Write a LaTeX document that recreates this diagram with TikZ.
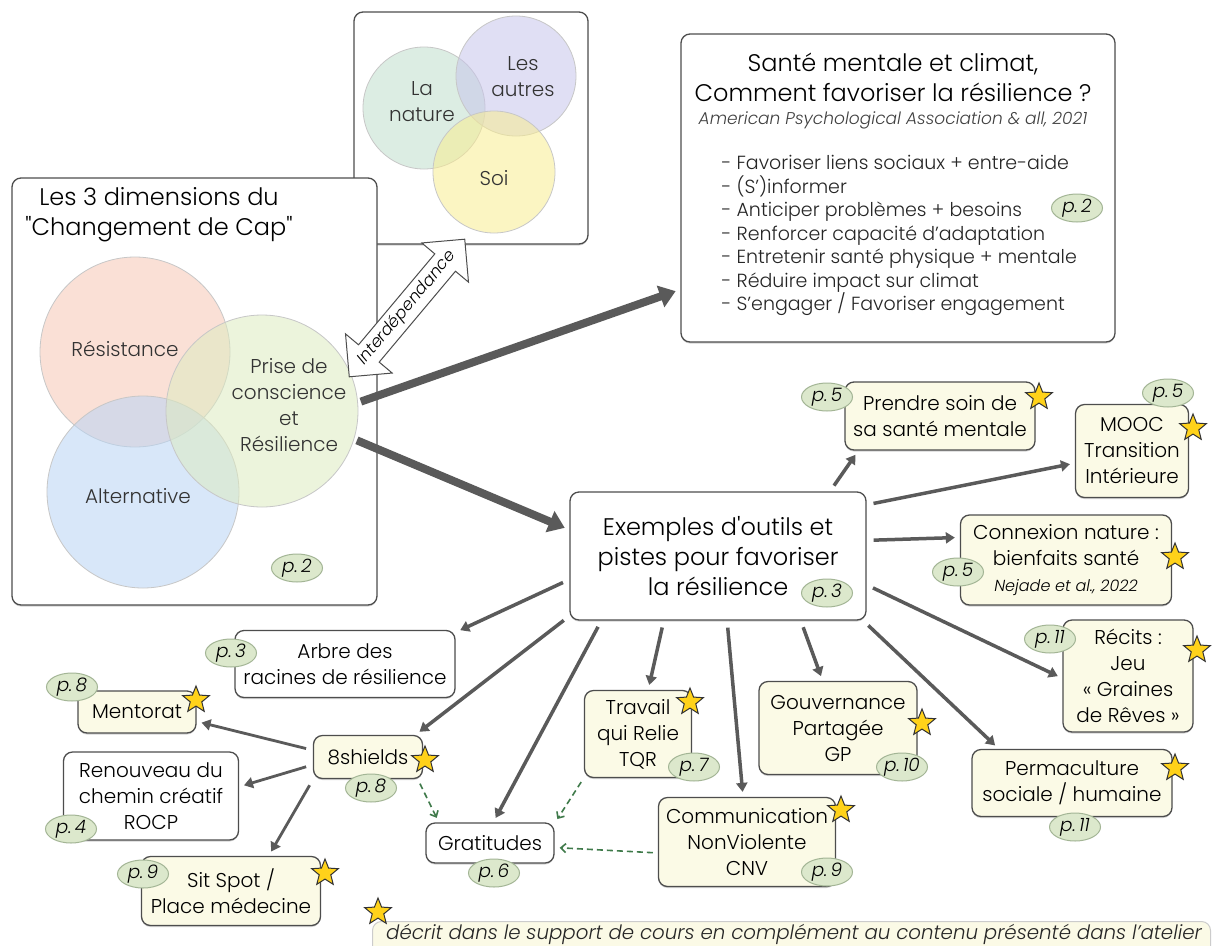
\documentclass[tikz,border=0pt]{standalone}
\usepackage{fontspec}
\setmainfont{Poppins}[UprightFont=* Light, ItalicFont=* Light Italic, BoldFont=* Medium]
\usetikzlibrary{arrows.meta,shapes.geometric,shapes.arrows,shadows}

\definecolor{boxline}{HTML}{4D4D4D}
\definecolor{cream}{HTML}{FBFAE6}
\definecolor{pillfill}{HTML}{DCE8CC}
\definecolor{pillline}{HTML}{A3B595}
\definecolor{stargold}{HTML}{FFD21A}
\definecolor{arrgray}{HTML}{5A5A5A}
\definecolor{dashgreen}{HTML}{3F7A4A}
\definecolor{cresist}{HTML}{F7C7B5}
\definecolor{cprise}{HTML}{DDEBC1}
\definecolor{calter}{HTML}{B9D5F5}
\definecolor{cnature}{HTML}{C1DFCD}
\definecolor{cautres}{HTML}{C7C5EB}
\definecolor{csoi}{HTML}{F9ED91}

\newcommand{\straight}[1]{{\addfontfeatures{Ligatures=TeXOff}#1}}

\tikzset{
  box/.style={draw=boxline, line width=1.3pt, rounded corners=9pt, fill=white,
    align=center, inner sep=0pt, font=\fontsize{20}{26}\selectfont,
    drop shadow={shadow xshift=0pt, shadow yshift=-1.5pt, opacity=.35}},
  toolbox/.style={box, fill=cream},
  pill/.style={ellipse, draw=pillline, line width=1pt, fill=pillfill, minimum width=51pt,
    minimum height=28pt, inner sep=0pt, font=\fontsize{18.5}{18.5}\selectfont\itshape},
  gold/.style={star, star points=5, star point ratio=2.3, draw=black!80, line width=1pt,
    fill=stargold, minimum size=28pt, inner sep=0pt},
  zone/.style={circle, inner sep=0pt, line width=.8pt, draw=black!22, fill opacity=.55},
  label/.style={align=center, text=black!80, font=\fontsize{20}{26}\selectfont},
  link/.style={draw=arrgray, line width=3.5pt, -{Triangle[length=9pt,width=11pt]},
    shorten <=7pt, shorten >=5pt},
  biglink/.style={draw=arrgray, line width=8pt, -{Triangle[length=16pt,width=22pt]},
    shorten <=3pt, shorten >=5pt},
  minilink/.style={link, line width=2.8pt},
  hint/.style={draw=dashgreen, line width=1.6pt, dash pattern=on 6pt off 4pt,
    -{Straight Barb[length=5pt,width=9pt]}, shorten <=5pt, shorten >=5pt}
}

\begin{document}
\begin{tikzpicture}[x=1pt,y=-1pt]
\useasboundingbox[fill=white] (0,0) rectangle (1212,945);

% la nature, les autres, soi
\node[box, minimum width=234pt, minimum height=232pt] (venn) at (471,128) {};
\node[zone, fill=cnature, minimum size=122pt] (nature) at (424,108) {};
\node[zone, fill=cautres, minimum size=120pt] (autres) at (516,76) {};
\node[zone, fill=csoi, minimum size=122pt] (soi) at (494,172) {};
\node[label] (lnature) at (422,102) {La\\nature};
\node[label] (lautres) at (523,77) {Les\\autres};
\node[label] (lsoi) at (494,178) {Soi};

% les 3 dimensions
\node[box, minimum width=365pt, minimum height=427pt] (dims) at (194.5,391.5) {};
\node[align=center, font=\fontsize{24}{30}\selectfont] (dimstitle) at (159,215)
  {Les 3 dimensions du\\\straight{"Changement de Cap"}};
\node[zone, fill=cresist, minimum size=190pt] (resist) at (135,352) {};
\node[zone, fill=calter, minimum size=192pt] (alter) at (143,492) {};
\node[zone, fill=cprise, minimum size=192pt] (prise) at (262,411) {};
\node[label] (lresist) at (125,349) {Résistance};
\node[label] (lprise) at (289,405) {Prise de\\conscience\\et\\Résilience};
\node[label] (lalter) at (138,496) {Alternative};
\node[pill] (pdims) at (297,568) {p.\,2};

\node[double arrow, draw=boxline, fill=white, line width=1pt, rotate=50,
  minimum height=166pt, double arrow head extend=17pt, inner sep=4.5pt,
  font=\fontsize{16.5}{16.5}\selectfont\itshape] (interdep) at (407,308) {Interdépendance};

% sante mentale et climat
\node[box, minimum width=434pt, minimum height=308pt] (sante) at (898,188) {};
\node[align=center, font=\fontsize{24}{30}\selectfont] (santetitle) at (893,77)
  {Santé mentale et climat,\\Comment favoriser la résilience ?};
\node[font=\fontsize{17}{20}\selectfont\itshape, text=black!75] (apa) at (893,120)
  {American Psychological Association \& all, 2021};
\node[anchor=west, align=left, text=black!85, font=\fontsize{19}{23.5}\selectfont] (pistes) at (718,235.5)
  {- Favoriser liens sociaux + entre-aide\\
   - (S’)informer\\
   - Anticiper problèmes + besoins\\
   - Renforcer capacité d’adaptation\\
   - Entretenir santé physique + mentale\\
   - Réduire impact sur climat\\
   - S’engager / Favoriser engagement};
\node[pill] (psante) at (1077,208) {p.\,2};

% exemples d'outils
\node[box, minimum width=296pt, minimum height=128pt, font=\fontsize{24}{30}\selectfont] (exemples) at (718,556)
  {Exemples d\straight{'}outils et\\pistes pour favoriser\\la résilience};
\node[toolbox, minimum width=190pt, minimum height=68pt] (soin) at (940,416) {Prendre soin de\\sa santé mentale};
\node[toolbox, minimum width=113pt, minimum height=93pt] (mooc) at (1132,451) {MOOC\\Transition\\Intérieure};
\node[toolbox, minimum width=211pt, minimum height=90pt] (connexion) at (1066,560)
  {Connexion nature :\\bienfaits santé\\{\fontsize{16}{20}\selectfont\itshape Nejade et al., 2022}};
\node[toolbox, minimum width=130pt, minimum height=112pt] (recits) at (1128,676) {Récits :\\Jeu\\« Graines\\de Rêves »};
\node[toolbox, minimum width=200pt, minimum height=67pt] (perma) at (1072,783) {Permaculture\\sociale / humaine};
\node[toolbox, minimum width=158pt, minimum height=93pt] (gouv) at (838,728) {Gouvernance\\Partagée\\GP};
\node[toolbox, minimum width=177pt, minimum height=89pt] (cnv) at (747,842) {Communication\\NonViolente\\CNV};
\node[toolbox, minimum width=107pt, minimum height=87pt] (tqr) at (638,734) {Travail\\qui Relie\\TQR};
\node[box, minimum width=220pt, minimum height=67pt] (arbre) at (345,664) {Arbre des\\racines de résilience};
\node[toolbox, minimum width=118pt, minimum height=42pt] (mentorat) at (137,712) {Mentorat};
\node[toolbox, minimum width=109pt, minimum height=43pt] (shields) at (368,757) {8shields};
\node[box, minimum width=175pt, minimum height=88pt] (rocp) at (151,796) {Renouveau du\\chemin créatif\\ROCP};
\node[toolbox, minimum width=179pt, minimum height=69pt] (sitspot) at (231,891) {Sit Spot /\\Place médecine};
\node[box, minimum width=128pt, minimum height=40pt] (gratitudes) at (490,843) {Gratitudes};

% pages
\node[pill] (pexemples) at (827,593) {p.\,3};
\node[pill] (psoin) at (827,397) {p.\,5};
\node[pill] (pmooc) at (1168,393) {p.\,5};
\node[pill] (pconnexion) at (958,572) {p.\,5};
\node[pill] (precits) at (1050,639) {p.\,11};
\node[pill] (pperma) at (1075,827) {p.\,11};
\node[pill] (pgouv) at (902,767) {p.\,10};
\node[pill] (pcnv) at (827,872) {p.\,9};
\node[pill] (ptqr) at (694,767) {p.\,7};
\node[pill] (parbre) at (231,653) {p.\,3};
\node[pill] (pmentorat) at (72,687) {p.\,8};
\node[pill] (pshields) at (371,788) {p.\,8};
\node[pill] (procp) at (71,829) {p.\,4};
\node[pill] (psitspot) at (143,874) {p.\,9};
\node[pill] (pgratitudes) at (494,873) {p.\,6};

% etoiles
\node[gold] (ssoin) at (1039,397) {};
\node[gold] (smooc) at (1193,428) {};
\node[gold] (sconnexion) at (1175,557) {};
\node[gold] (srecits) at (1197,650) {};
\node[gold] (sperma) at (1175,768) {};
\node[gold] (sgouv) at (922,723) {};
\node[gold] (scnv) at (841,810) {};
\node[gold] (stqr) at (690,702) {};
\node[gold] (smentorat) at (196,700) {};
\node[gold] (sshields) at (425,760) {};
\node[gold] (ssitspot) at (325,873) {};

% fleches
\draw[biglink] (prise.5) -- (sante.205);
\draw[biglink] (prise.-17) -- (exemples.170);
\draw[link] (exemples.30) -- (soin.203);
\draw[link] (exemples.19) -- (mooc.192);
\draw[link] (exemples.6) -- (connexion.168);
\draw[link] (exemples.-11) -- (recits.182);
\draw[link] (exemples.-24) -- (perma.155);
\draw[link] (exemples.-38) -- (gouv.108);
\draw[link] (exemples.-82) -- (cnv.95);
\draw[link] (exemples.230) -- (tqr.77);
\draw[link] (exemples.209) -- (gratitudes.81);
\draw[link] (exemples.202) -- (shields.25);
\draw[link] (exemples.189) -- (arbre.16);
\draw[minilink] (shields.173) -- (mentorat.-9);
\draw[minilink] (shields.188) -- (rocp.6);
\draw[minilink] (shields.202) -- (sitspot.43);
\draw[hint] (shields.-24) -- (gratitudes.158);
\draw[hint] (tqr.219) -- (gratitudes.17);
\draw[hint] (cnv.187) -- (gratitudes.-4);

% legende
\node[draw=black!20, line width=1pt, fill=cream, rounded corners=9pt, anchor=north west,
  minimum width=838pt, minimum height=40pt] (legend) at (372,921) {};
\node[font=\fontsize{19.8}{24}\selectfont\itshape, text=black!85] (legendtext) at (794,934)
  {décrit dans le support de cours en complément au contenu présenté dans l’atelier};
\node[gold] (slegend) at (378,912) {};
\end{tikzpicture}
\end{document}
